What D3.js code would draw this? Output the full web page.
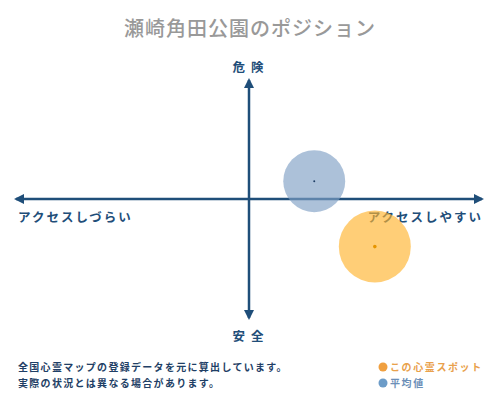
<!DOCTYPE html>
<html>
<head>
<meta charset="utf-8">
<script src="https://cdn.jsdelivr.net/npm/d3@7"></script>
<style>
  body { margin: 0; background: #fff; }
  text { font-family: "Noto Sans CJK JP", sans-serif; }
</style>
</head>
<body>
<div class="chart"></div>
<script>
// DATA ------
const title = "瀬崎角田公園のポジション";
const series = ["平均値", "この心霊スポット"];
const access = [2.8, 5.4];     // x: アクセスしづらい(-10) .. アクセスしやすい(10)
const danger = [1.5, -4.0];    // y: 安全(-10) .. 危険(10)
const size = [60, 81];
const colors = ["#7f9fc5", "#ffb42e"];
const dotColors = ["#1f3f66", "#e69500"];
const axisLabels = {top: "危険", bottom: "安全", left: "アクセスしづらい", right: "アクセスしやすい"};
const notes = ["全国心霊マップの登録データを元に算出しています。", "実際の状況とは異なる場合があります。"];

const width = 500, height = 400;
const navy = "#1f4e79";

const svg = d3.select(".chart")
  .append("svg")
  .attr("width", width)
  .attr("height", height);

const xScale = d3.scaleLinear().domain([-10, 10]).range([16, 482]);
const yScale = d3.scaleLinear().domain([-10, 10]).range([318, 80]);
const rScale = d3.scaleSqrt().domain([0, 100]).range([0, 40]);

// title
svg.append("text")
  .attr("x", width / 2)
  .attr("y", 36)
  .attr("text-anchor", "middle")
  .attr("font-size", 20)
  .attr("font-weight", 500)
  .attr("fill", "#999")
  .attr("letter-spacing", 1)
  .text(title);

// arrow heads
const defs = svg.append("defs");
defs.append("marker")
  .attr("id", "arrow")
  .attr("viewBox", "0 0 10 10")
  .attr("refX", 8)
  .attr("refY", 5)
  .attr("markerWidth", 4)
  .attr("markerHeight", 4)
  .attr("orient", "auto-start-reverse")
  .append("path")
  .attr("d", "M0,0 L10,5 L0,10 z")
  .attr("fill", navy);

// axes
svg.append("line")
  .attr("x1", xScale(-10)).attr("x2", xScale(10))
  .attr("y1", yScale(0)).attr("y2", yScale(0))
  .attr("stroke", navy).attr("stroke-width", 2.5)
  .attr("marker-start", "url(#arrow)")
  .attr("marker-end", "url(#arrow)");

svg.append("line")
  .attr("x1", xScale(0)).attr("x2", xScale(0))
  .attr("y1", yScale(-10)).attr("y2", yScale(10))
  .attr("stroke", navy).attr("stroke-width", 2.5)
  .attr("marker-start", "url(#arrow)")
  .attr("marker-end", "url(#arrow)");

// axis labels
const lab = (x, y, anchor, t, spacing) => svg.append("text")
  .attr("x", x).attr("y", y)
  .attr("text-anchor", anchor)
  .attr("font-size", 12.5)
  .attr("font-weight", "bold")
  .attr("fill", navy)
  .attr("letter-spacing", spacing)
  .text(t);

lab(xScale(0) + 2, 72, "middle", axisLabels.top, 6);
lab(xScale(0) + 2, 341, "middle", axisLabels.bottom, 6);
lab(18, 222, "start", axisLabels.left, 2);
lab(483, 222, "end", axisLabels.right, 2);

// bubbles
const points = series.map((s, i) => ({name: s, x: access[i], y: danger[i], r: size[i], c: colors[i], dc: dotColors[i]}));

svg.selectAll(".bubble")
  .data(points)
  .enter()
  .append("circle")
  .attr("class", "bubble")
  .attr("cx", d => xScale(d.x))
  .attr("cy", d => yScale(d.y))
  .attr("r", d => rScale(d.r))
  .attr("fill", d => d.c)
  .attr("opacity", 0.65);

svg.selectAll(".center")
  .data(points)
  .enter()
  .append("circle")
  .attr("class", "center")
  .attr("cx", d => xScale(d.x))
  .attr("cy", d => yScale(d.y))
  .attr("r", (d, i) => i === 0 ? 1 : 1.8)
  .attr("fill", d => d.dc);

// notes
svg.selectAll(".note")
  .data(notes)
  .enter()
  .append("text")
  .attr("class", "note")
  .attr("x", 18)
  .attr("y", (d, i) => 371 + i * 16)
  .attr("font-size", 10)
  .attr("font-weight", "bold")
  .attr("fill", "#1f3f66")
  .attr("letter-spacing", 1.3)
  .text(d => d);

// legend
const legend = [
  {name: series[1], dot: "#f0a040", text: "#e9a14c"},
  {name: series[0], dot: "#6c9cc8", text: "#6c8fb8"}
];
const lg = svg.selectAll(".legend")
  .data(legend)
  .enter()
  .append("g")
  .attr("class", "legend")
  .attr("transform", (d, i) => `translate(383, ${367 + i * 16})`);

lg.append("circle")
  .attr("r", 4.5)
  .attr("fill", d => d.dot);

lg.append("text")
  .attr("x", 7)
  .attr("y", 4)
  .attr("font-size", 10)
  .attr("font-weight", "bold")
  .attr("fill", d => d.text)
  .attr("letter-spacing", 1.6)
  .text(d => d.name);
</script>
</body>
</html>
